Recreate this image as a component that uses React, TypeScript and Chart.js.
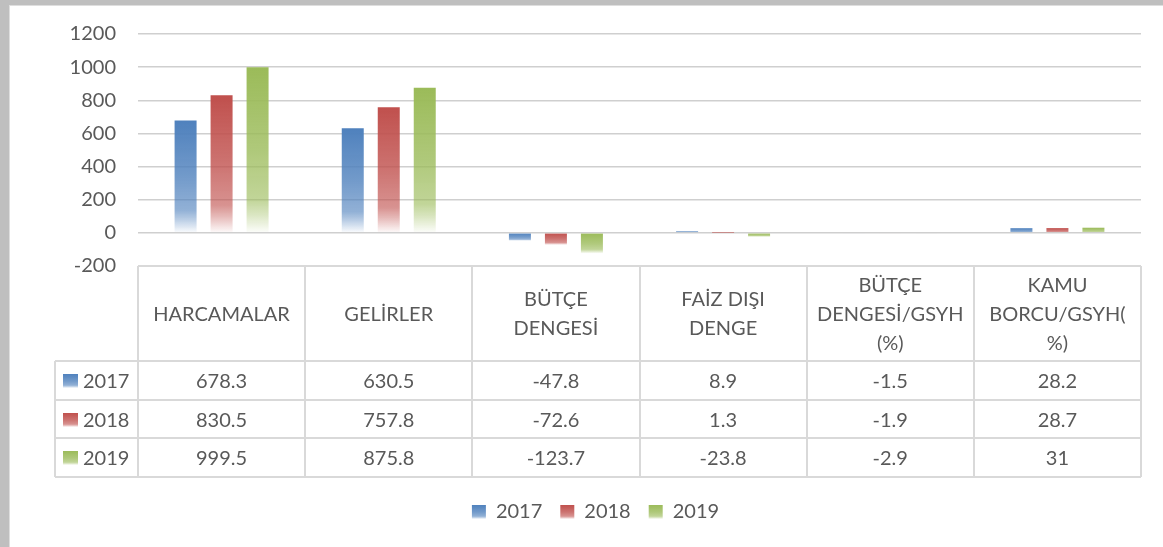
import React, { useEffect, useRef } from "react";
import { Chart, registerables } from "chart.js";

Chart.register(...registerables);

// ---- data ----
const categories: string[][] = [
  ["HARCAMALAR"],
  ["GELİRLER"],
  ["BÜTÇE", "DENGESİ"],
  ["FAİZ DIŞI", "DENGE"],
  ["BÜTÇE", "DENGESİ/GSYH", "(%)"],
  ["KAMU", "BORCU/GSYH(", "%)"],
];
const seriesNames = ["2017", "2018", "2019"];
const values2017 = [678.3, 630.5, -47.8, 8.9, -1.5, 28.2];
const values2018 = [830.5, 757.8, -72.6, 1.3, -1.9, 28.7];
const values2019 = [999.5, 875.8, -123.7, -23.8, -2.9, 31];
const yTickValues = [-200, 0, 200, 400, 600, 800, 1000, 1200];
const seriesValues = [values2017, values2018, values2019];

// ---- styles ----
const seriesColors = ["#4f81bd", "#c0504d", "#9bbb59"];
const TEXT = "#595959";
const FONT = "Lato";
const LINE = "#d9d9d9";
const LEGEND_PAD = 18;

function rgba(hex: string, a: number) {
  const r = parseInt(hex.slice(1, 3), 16);
  const g = parseInt(hex.slice(3, 5), 16);
  const b = parseInt(hex.slice(5, 7), 16);
  return `rgba(${r},${g},${b},${a})`;
}

function makeGradient(ctx: CanvasRenderingContext2D, top: number, bottom: number, hex: string): any {
  if (!isFinite(top) || !isFinite(bottom)) return hex;
  const g = ctx.createLinearGradient(0, top, 0, Math.max(bottom, top + 0.01));
  g.addColorStop(0, rgba(hex, 1));
  g.addColorStop(0.5, rgba(hex, 0.8));
  g.addColorStop(0.8, rgba(hex, 0.62));
  g.addColorStop(0.88, rgba(hex, 0.4));
  g.addColorStop(1, rgba(hex, 0.02));
  return g;
}

const tablePlugin = {
  id: "dataTable",
  afterDraw(chart: any) {
    const { ctx, scales } = chart;
    const x = scales.x;
    const y = scales.y;
    const n = chart.data.labels.length;
    const w = (x.right - x.left) / n;
    const top = Math.round(y.bottom);
    const headerBottom = top + 95;
    const rowH = 38.7;
    const legendLeft = Math.round(x.left) - 83;
    const nRows = chart.data.datasets.length;
    const tableBottom = headerBottom + rowH * nRows;

    ctx.save();
    ctx.strokeStyle = LINE;
    ctx.lineWidth = 2;
    ctx.beginPath();
    ctx.moveTo(x.left, top);
    ctx.lineTo(x.right, top);
    for (let r = 0; r <= nRows; r++) {
      const yy = Math.round(headerBottom + rowH * r);
      ctx.moveTo(legendLeft, yy);
      ctx.lineTo(x.right, yy);
    }
    for (let i = 0; i <= n; i++) {
      const xx = Math.round(x.left + w * i);
      ctx.moveTo(xx, top);
      ctx.lineTo(xx, Math.round(tableBottom));
    }
    ctx.moveTo(legendLeft, headerBottom);
    ctx.lineTo(legendLeft, Math.round(tableBottom));
    ctx.stroke();

    ctx.fillStyle = TEXT;
    ctx.font = `20px ${FONT}`;
    ctx.textAlign = "center";
    ctx.textBaseline = "middle";
    const headerMid = (top + headerBottom) / 2 + 1;
    const lh = 29;
    chart.data.labels.forEach((lab: string[], i: number) => {
      const cx = x.getPixelForValue(i);
      const lines = Array.isArray(lab) ? lab : [lab];
      lines.forEach((t, k) => {
        ctx.fillText(t, cx, headerMid + (k - (lines.length - 1) / 2) * lh);
      });
    });
    chart.data.datasets.forEach((ds: any, r: number) => {
      const cy = headerBottom + rowH * (r + 0.5) + 1;
      ds.data.forEach((v: number, i: number) => {
        ctx.fillStyle = TEXT;
        ctx.textAlign = "center";
        ctx.fillText(String(v), x.getPixelForValue(i), cy);
      });
      const bx = legendLeft + 8;
      const by = Math.round(cy - 7.5);
      ctx.fillStyle = makeGradient(ctx, by, by + 14, seriesColors[r]);
      ctx.fillRect(bx, by, 15, 14);
      ctx.fillStyle = TEXT;
      ctx.textAlign = "left";
      ctx.fillText(ds.label, legendLeft + 28, cy);
    });
    ctx.restore();
  },
};

export default function App() {
  const ref = useRef<HTMLCanvasElement>(null);

  useEffect(() => {
    document.body.style.margin = "0";
    const canvas = ref.current!;
    const chart = new Chart(canvas, {
      type: "bar",
      data: {
        labels: categories as any,
        datasets: seriesNames.map((name, s) => ({
          label: name,
          data: seriesValues[s],
          backgroundColor: (c: any) => {
            const col = seriesColors[s];
            if (c.type !== "data") return col;
            const ys = c.chart.scales && c.chart.scales.y;
            if (!ys) return col;
            const p1 = ys.getPixelForValue(c.raw as number);
            const p0 = ys.getPixelForValue(0);
            return makeGradient(c.chart.ctx, Math.min(p0, p1), Math.max(p0, p1), col);
          },
          borderWidth: 0,
          barPercentage: 0.611,
          categoryPercentage: 0.646,
        })),
      },
      options: {
        responsive: false,
        animation: false,
        layout: { padding: { left: 50, right: 22, top: 34, bottom: 15 } },
        plugins: {
          legend: {
            position: "bottom",
            labels: {
              boxWidth: 14,
              boxHeight: 14,
              padding: LEGEND_PAD,
              color: TEXT,
              font: { family: FONT, size: 20 },
              generateLabels: (ch: any) => {
                const items = (Chart.defaults.plugins.legend.labels as any).generateLabels(ch);
                const lg = ch.legend;
                items.forEach((it: any) => {
                  const col = seriesColors[it.datasetIndex];
                  let fill: any = col;
                  if (lg && isFinite(lg.top)) {
                    const t = lg.top + LEGEND_PAD + 3;
                    fill = makeGradient(ch.ctx, t, t + 14, col);
                  }
                  it.fillStyle = fill;
                  it.strokeStyle = fill;
                  it.lineWidth = 0;
                });
                return items;
              },
            },
          },
          tooltip: { enabled: false },
        },
        scales: {
          x: {
            ticks: { display: false },
            grid: { display: false },
            border: { display: false },
            afterFit: (scale: any) => {
              scale.height = 218;
            },
          },
          y: {
            min: yTickValues[0],
            max: yTickValues[yTickValues.length - 1],
            ticks: {
              stepSize: yTickValues[1] - yTickValues[0],
              padding: 22,
              color: TEXT,
              font: { family: FONT, size: 20 },
              callback: (v: any) => String(v),
            },
            grid: { color: "#cfcfcf", lineWidth: 1.5, drawTicks: false },
            border: { display: false },
            afterFit: (scale: any) => {
              scale.width = 88;
            },
          },
        },
      },
      plugins: [tablePlugin],
    });
    chart.update();
    return () => chart.destroy();
  }, []);

  return (
    <div style={{ position: "relative", width: 1163, height: 547, background: "#bfbfbf", overflow: "hidden" }}>
      <div
        style={{
          position: "absolute",
          left: 9,
          top: 5,
          right: 0,
          bottom: 0,
          background: "#ffffff",
          borderLeft: "1px solid #dedede",
          borderTop: "1px solid #dedede",
        }}
      />
      <canvas
        ref={ref}
        width={1163}
        height={547}
        style={{ position: "absolute", left: 0, top: 0, width: 1163, height: 547 }}
      />
    </div>
  );
}
